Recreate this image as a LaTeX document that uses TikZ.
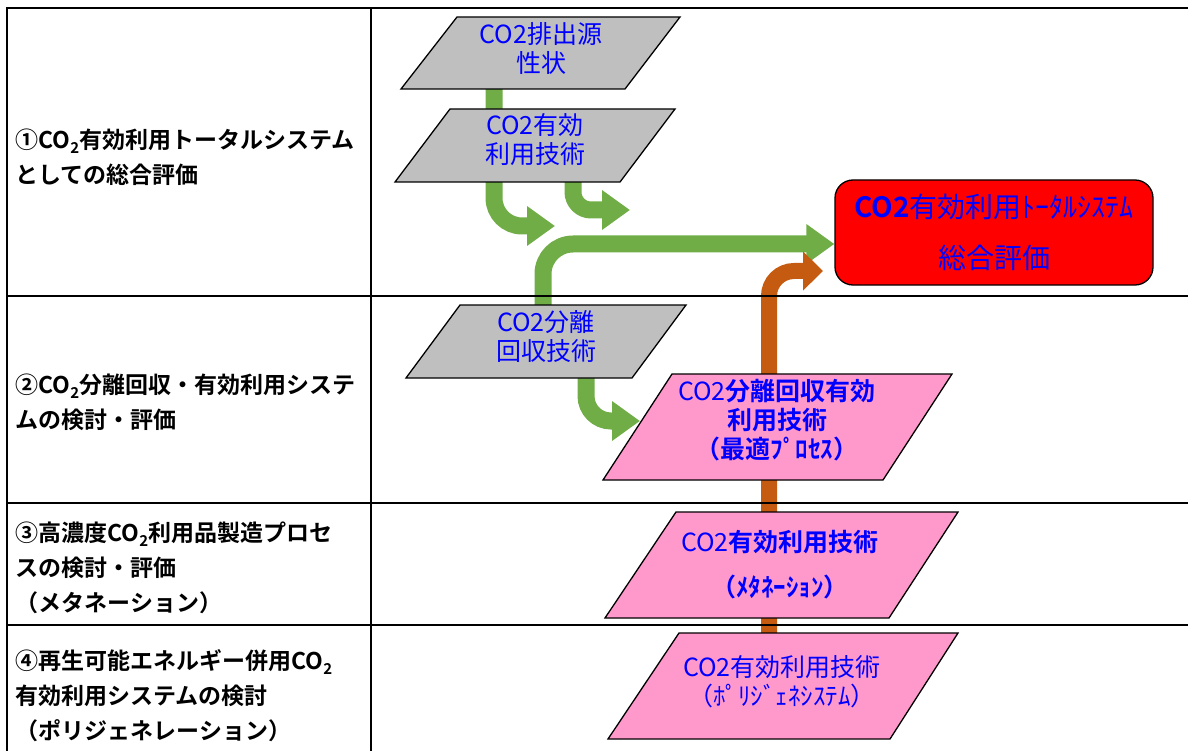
\documentclass[tikz,border=0pt]{standalone}
\usepackage{fontspec}
\usetikzlibrary{arrows.meta}
\newfontfamily\jp{Noto Sans CJK JP}[BoldFont={Noto Sans CJK JP Bold}]
\definecolor{grn}{HTML}{70AD47}
\definecolor{org}{HTML}{C55A11}
\definecolor{gry}{HTML}{BFBFBF}
\definecolor{pnk}{HTML}{FF99CC}
\definecolor{txtb}{HTML}{0000FF}
\newcommand\cotwo{CO\raisebox{-0.22em}{\fontsize{15}{15}\selectfont 2}}
\pgfdeclarelayer{background}
\pgfsetlayers{background,main}
\tikzset{
  grid/.style={line width=1.3pt, draw=black},
  rowtext/.style={anchor=west, align=left, font=\jp\bfseries\fontsize{23}{35}\selectfont},
  grayshape/.style={fill=gry, draw=black, line width=1.3pt},
  pinkshape/.style={fill=pnk, draw=black, line width=1.3pt},
  shapetext/.style={align=center, text=txtb, font=\jp\fontsize{25}{29}\selectfont, inner sep=0pt},
  garrow/.style={draw=grn, line width=17pt, -{Triangle[length=28pt,width=38pt]}},
  oarrow/.style={draw=org, line width=16pt, -{Triangle[length=20pt,width=38pt]}},
}
\begin{document}
\begin{tikzpicture}[x=1pt,y=-1pt]
\useasboundingbox (0,0) rectangle (1188,751);
% table
\draw[grid] (1188,8) -- (7,8) -- (7,751);
\draw[grid] (371,8) -- (371,751);
\draw[grid] (7,296) -- (1188,296);
\draw[grid] (7,503) -- (1188,503);
\draw[grid] (7,625) -- (1188,625);
% row labels
\node[rowtext] (r1) at (12,157) {①\cotwo 有効利用トータルシステム\\としての総合評価};
\node[rowtext] (r2) at (12,402) {②\cotwo 分離回収・有効利用システ\\ムの検討・評価};
\node[rowtext] (r3) at (12,568) {③高濃度\cotwo 利用品製造プロセ\\スの検討・評価\\（メタネーション）};
\node[rowtext] (r4) at (12,696) {④再生可能エネルギー併用\cotwo\\有効利用システムの検討\\（ポリジェネレーション）};
% shapes
\draw[grayshape] (457,17) -- (680,17) -- (625,89) -- (401,89) -- cycle;
\node[shapetext] (s1) at (541,48) {CO2排出源\\性状};
\draw[grayshape] (450,109) -- (675,109) -- (620,182) -- (395,182) -- cycle;
\node[shapetext] (s2) at (535,140) {CO2有効\\利用技術};
\draw[grayshape] (460,305) -- (686,305) -- (632,378) -- (406,378) -- cycle;
\node[shapetext] (s3) at (546,337) {CO2分離\\回収技術};
\draw[pinkshape] (672,374) -- (952,374) -- (883,480) -- (603,480) -- cycle;
\node[shapetext] (s4) at (777,420) {CO2\textbf{分離回収有効}\\\textbf{利用技術}\\\textbf{（最適ﾌﾟﾛｾｽ）}};
\draw[pinkshape] (676,512) -- (958,512) -- (889,618) -- (605,618) -- cycle;
\node[shapetext, font=\jp\fontsize{25}{45}\selectfont] (s5) at (780,565) {CO2\textbf{有効利用技術}\\\textbf{（ﾒﾀﾈｰｼｮﾝ）}};
\draw[pinkshape] (679,633) -- (958,633) -- (890,739) -- (608,739) -- cycle;
\node[shapetext] (s6) at (782,682) {CO2有効利用技術\\（ﾎﾟﾘｼﾞｪﾈｼｽﾃﾑ）};
\node[draw=black, line width=1.3pt, fill=red, rounded corners=18pt, minimum width=318pt, minimum height=105pt, align=center, text=txtb, font=\jp\fontsize{28}{51}\selectfont] (goal) at (994,232.5) {\textbf{CO2}有効利用ﾄｰﾀﾙｼｽﾃﾑ\\総合評価};
% connector end points
\coordinate (a1) at (494,80);
\coordinate (a1t) at (555,226);
\coordinate (b1) at (573,175);
\coordinate (b1t) at (630,210);
\coordinate (c1) at (543,315);
\coordinate (d1) at (586,370);
\coordinate (d1t) at (640,421);
\coordinate (e1) at (769,690);
\coordinate (e1t) at (823,271);
% arrows
\begin{pgfonlayer}{background}
\draw[garrow, rounded corners=28pt] (a1) |- (a1t);
\draw[garrow, rounded corners=18pt] (b1) |- (b1t);
\draw[garrow, rounded corners=30pt] (c1) |- (goal.west |- 0,244);
\draw[garrow, rounded corners=25pt] (d1) |- (d1t);
\draw[oarrow, rounded corners=25pt] (e1) |- (e1t);
\end{pgfonlayer}
\end{tikzpicture}
\end{document}
